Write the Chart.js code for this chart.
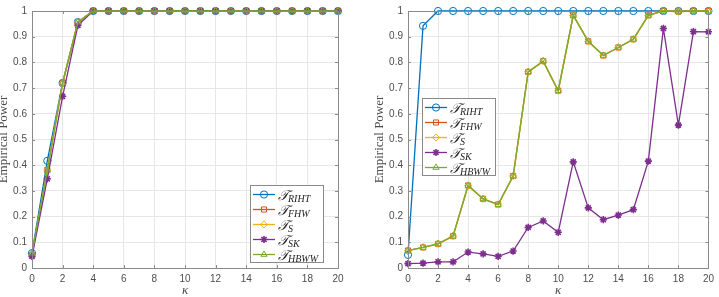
<!DOCTYPE html>
<html>
<head>
<meta charset="utf-8">
<script src="https://cdn.jsdelivr.net/npm/chart.js@4/dist/chart.umd.min.js"></script>
<style>
  html, body { margin: 0; padding: 0; background: #fff; }
  body { width: 719px; height: 297px; position: relative; overflow: hidden; }
  .panel { position: absolute; top: 0; height: 297px; }
</style>
</head>
<body>
<div class="panel" style="left:0;width:360px"><canvas id="leftChart" width="360" height="297"></canvas></div>
<div class="panel" style="left:360px;width:359px"><canvas id="rightChart" width="359" height="297"></canvas></div>
<script>
// kappa values (x axis)
const kappa = [0, 1, 2, 3, 4, 5, 6, 7, 8, 9, 10, 11, 12, 13, 14, 15, 16, 17, 18, 19, 20];

// left panel
const leftRIHT = [0.058, 0.417, 0.72, 0.957, 1, 1, 1, 1, 1, 1, 1, 1, 1, 1, 1, 1, 1, 1, 1, 1, 1];
const leftFHW  = [0.05, 0.381, 0.718, 0.957, 1, 1, 1, 1, 1, 1, 1, 1, 1, 1, 1, 1, 1, 1, 1, 1, 1];
const leftS    = [0.05, 0.381, 0.718, 0.957, 1, 1, 1, 1, 1, 1, 1, 1, 1, 1, 1, 1, 1, 1, 1, 1, 1];
const leftSK   = [0.045, 0.347, 0.668, 0.944, 1, 1, 1, 1, 1, 1, 1, 1, 1, 1, 1, 1, 1, 1, 1, 1, 1];
const leftHBWW = [0.058, 0.381, 0.72, 0.957, 1, 1, 1, 1, 1, 1, 1, 1, 1, 1, 1, 1, 1, 1, 1, 1, 1];

// right panel
const rightRIHT = [0.051, 0.942, 1, 1, 1, 1, 1, 1, 1, 1, 1, 1, 1, 1, 1, 1, 1, 1, 1, 1, 1];
const rightFHW  = [0.068, 0.08, 0.094, 0.124, 0.321, 0.269, 0.247, 0.358, 0.763, 0.805, 0.69, 0.983, 0.882, 0.827, 0.858, 0.89, 0.983, 1, 0.998, 1, 1];
const rightS    = [0.068, 0.08, 0.094, 0.124, 0.321, 0.269, 0.247, 0.358, 0.763, 0.805, 0.69, 0.983, 0.882, 0.827, 0.858, 0.89, 0.983, 1, 0.998, 1, 1];
const rightSK   = [0.017, 0.019, 0.024, 0.024, 0.062, 0.055, 0.045, 0.066, 0.158, 0.183, 0.139, 0.413, 0.234, 0.188, 0.206, 0.227, 0.416, 0.932, 0.556, 0.92, 0.919];
const rightHBWW = [0.068, 0.08, 0.094, 0.124, 0.321, 0.269, 0.247, 0.358, 0.763, 0.805, 0.69, 0.983, 0.882, 0.827, 0.858, 0.89, 0.983, 1, 0.998, 1, 1];

const seriesNames = ['RIHT', 'FHW', 'S', 'SK', 'HBWW'];
const seriesColors = ['#0072BD', '#D95319', '#EDB120', '#7E2F8E', '#77AC30'];
const seriesMarkers = ['circle', 'rect', 'rectRot', 'star', 'triangle'];

const xTicks = [0, 2, 4, 6, 8, 10, 12, 14, 16, 18, 20];
const yTicks = [0, 0.1, 0.2, 0.3, 0.4, 0.5, 0.6, 0.7, 0.8, 0.9, 1];

function makeDatasets(cols) {
    return cols.map((vals, i) => ({
        label: seriesNames[i],
        data: kappa.map((k, j) => ({ x: k, y: vals[j] })),
        borderColor: seriesColors[i],
        backgroundColor: seriesColors[i],
        borderWidth: 1.3,
        pointStyle: seriesMarkers[i],
        pointRadius: 3.6,
        pointBorderWidth: seriesMarkers[i] === 'star' ? 1.6 : 1,
        pointBackgroundColor: 'rgba(0,0,0,0)',
        pointBorderColor: seriesColors[i],
        tension: 0,
        clip: false,
        order: 5 - i   // MATLAB order: the last series sits on top
    }));
}

// draws the matlab style box, inward ticks, axis titles and legend
const matlabAxes = {
    id: 'matlabAxes',
    afterDraw(chart, args, opts) {
        const ctx = chart.ctx;
        const a = chart.chartArea;
        const xs = chart.scales.x, ys = chart.scales.y;
        ctx.save();
        ctx.strokeStyle = '#8a8a8a';
        ctx.lineWidth = 1;
        ctx.strokeRect(Math.round(a.left) + 0.5, Math.round(a.top) + 0.5,
            Math.round(a.right - a.left), Math.round(a.bottom - a.top));
        ctx.beginPath();
        xTicks.forEach(v => {
            const px = Math.round(xs.getPixelForValue(v)) + 0.5;
            ctx.moveTo(px, a.bottom); ctx.lineTo(px, a.bottom - 3);
            ctx.moveTo(px, a.top); ctx.lineTo(px, a.top + 3);
        });
        yTicks.forEach(v => {
            const py = Math.round(ys.getPixelForValue(v)) + 0.5;
            ctx.moveTo(a.left, py); ctx.lineTo(a.left + 3, py);
            ctx.moveTo(a.right, py); ctx.lineTo(a.right - 3, py);
        });
        ctx.stroke();

        // axis titles
        ctx.fillStyle = '#4a4a4a';
        ctx.textAlign = 'center';
        ctx.textBaseline = 'middle';
        ctx.font = 'italic 13px "Liberation Serif", "DejaVu Serif", serif';
        ctx.fillText('\u03BA', (a.left + a.right) / 2, 291);
        ctx.save();
        ctx.translate(opts.yTitleX, (a.top + a.bottom) / 2);
        ctx.rotate(-Math.PI / 2);
        ctx.font = '13px "Liberation Serif", "DejaVu Serif", serif';
        ctx.fillText('Empirical Power', 0, 0);
        ctx.restore();

        // legend
        const lx = opts.legendX, ly = opts.legendY, lw = 73, lh = 77;
        ctx.fillStyle = '#fff';
        ctx.fillRect(lx, ly, lw, lh);
        ctx.strokeStyle = '#8a8a8a';
        ctx.strokeRect(lx + 0.5, ly + 0.5, lw, lh);
        seriesNames.forEach((name, i) => {
            const y = ly + 9.5 + i * 15;
            ctx.strokeStyle = seriesColors[i];
            ctx.lineWidth = 1.3;
            ctx.beginPath();
            ctx.moveTo(lx + 3, y); ctx.lineTo(lx + 25, y);
            ctx.stroke();
            ctx.lineWidth = seriesMarkers[i] === 'star' ? 1.6 : 1;
            ctx.fillStyle = 'rgba(0,0,0,0)';
            Chart.helpers.drawPoint(ctx, { pointStyle: seriesMarkers[i], radius: 3.6, rotation: 0, borderWidth: ctx.lineWidth }, lx + 14, y);
            ctx.fillStyle = '#262626';
            ctx.textAlign = 'left';
            ctx.textBaseline = 'alphabetic';
            ctx.font = 'italic 14px "Liberation Serif", "DejaVu Serif", serif';
            ctx.fillText('\uD835\uDCAF', lx + 28, y + 5);
            const tw = ctx.measureText('\uD835\uDCAF').width;
            ctx.font = 'italic 10px "Liberation Serif", "DejaVu Serif", serif';
            ctx.fillText(name, lx + 27 + tw, y + 7);
        });
        ctx.restore();
    }
};

function makeChart(id, cols, yAxisWidth, padRight, opts) {
    return new Chart(document.getElementById(id), {
        type: 'line',
        data: { datasets: makeDatasets(cols) },
        options: {
            responsive: false,
            animation: false,
            layout: { padding: { top: 5, right: padRight, left: 0, bottom: 0 } },
            scales: {
                x: {
                    type: 'linear', min: 0, max: 20,
                    afterFit: s => { s.height = 29; },
                    afterBuildTicks: s => { s.ticks = xTicks.map(v => ({ value: v })); },
                    grid: { color: '#e6e6e6', drawTicks: false },
                    border: { display: false },
                    ticks: { padding: 5, color: '#4d4d4d', font: { family: '"Liberation Sans", Arial, sans-serif', size: 10 }, maxRotation: 0 }
                },
                y: {
                    min: 0, max: 1,
                    afterFit: s => { s.width = yAxisWidth; },
                    afterBuildTicks: s => { s.ticks = yTicks.map(v => ({ value: v })); },
                    grid: { color: '#e6e6e6', drawTicks: false },
                    border: { display: false },
                    ticks: { padding: 5, color: '#4d4d4d', font: { family: '"Liberation Sans", Arial, sans-serif', size: 10 },
                        callback: v => String(+v.toFixed(1)) }
                }
            },
            plugins: {
                legend: { display: false },
                tooltip: { enabled: false },
                matlabAxes: opts
            }
        },
        plugins: [matlabAxes]
    });
}

makeChart('leftChart', [leftRIHT, leftFHW, leftS, leftSK, leftHBWW], 32, 22, { yTitleX: 4, legendX: 250, legendY: 185 });
makeChart('rightChart', [rightRIHT, rightFHW, rightS, rightSK, rightHBWW], 48, 5, { yTitleX: 20, legendX: 62, legendY: 98 });
</script>
</body>
</html>
